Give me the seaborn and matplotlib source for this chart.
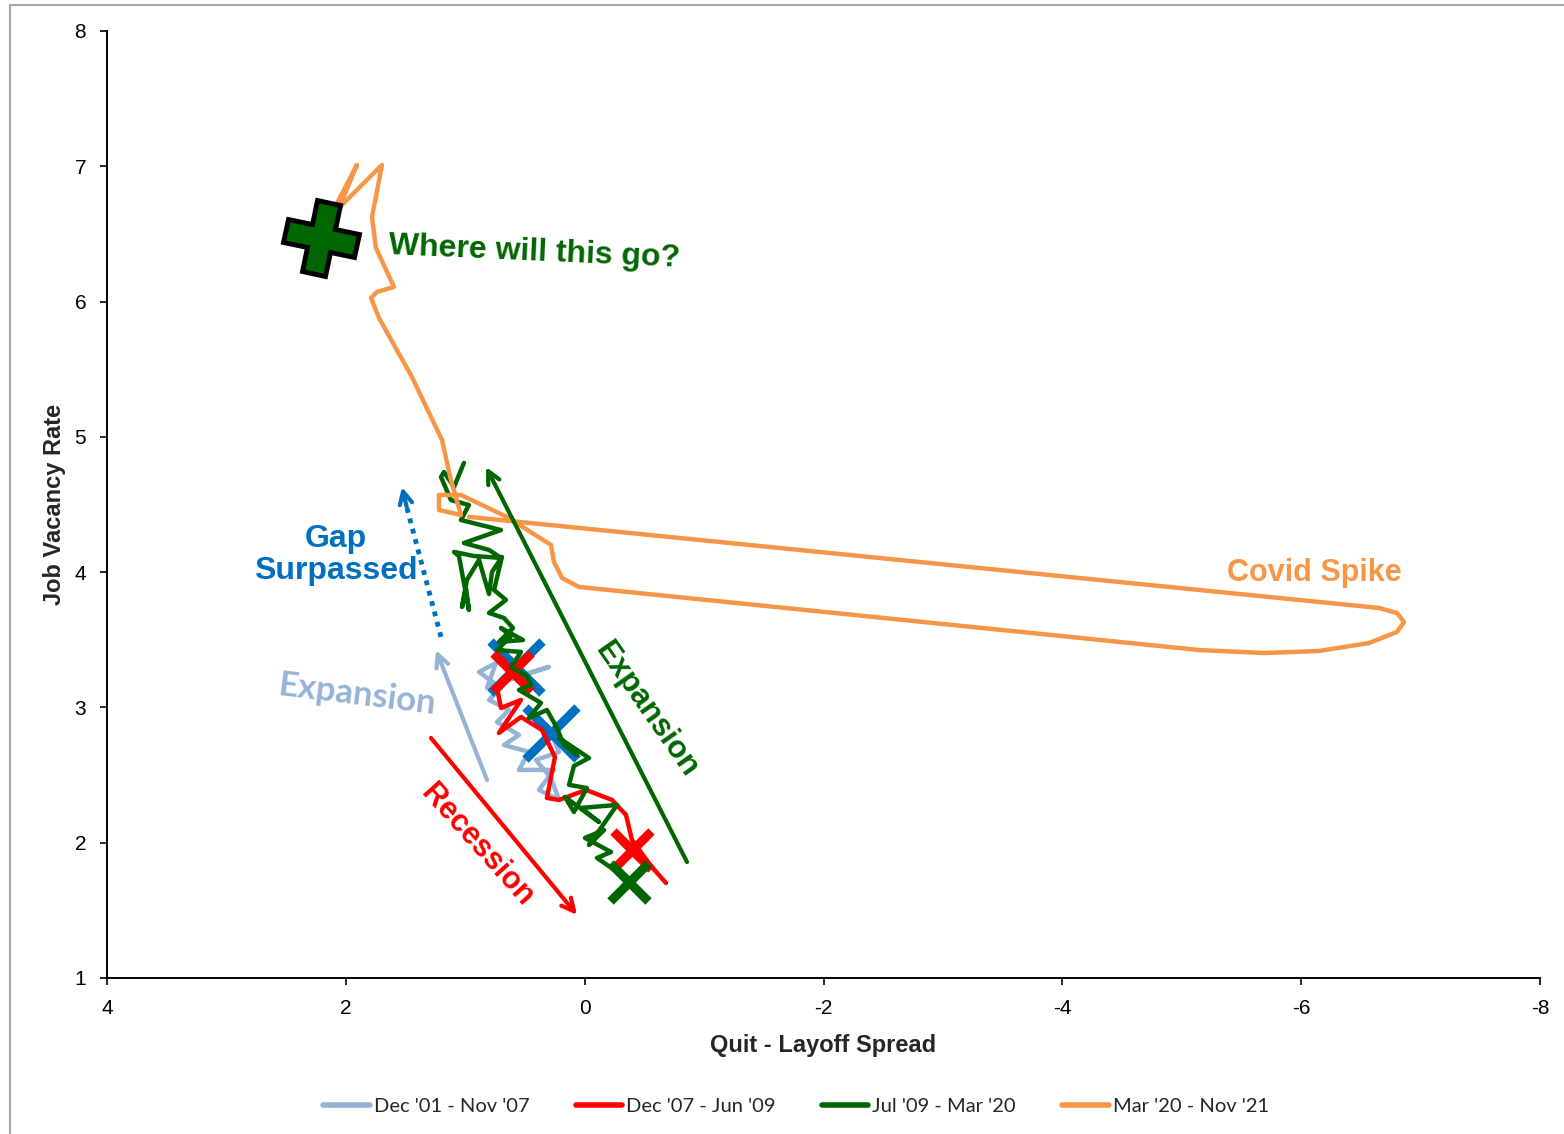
import matplotlib.pyplot as plt
import matplotlib.patches as mpatches
from matplotlib.markers import MarkerStyle
from matplotlib.transforms import Affine2D
import pandas as pd
import seaborn as sns

# quit - layoff spread (x) and job vacancy rate (y)
dec01_x = [0.282, 0.215, 0.408, 0.282, 0.215, 0.383, 0.257, 0.550, 0.466, 0.676,
           0.550, 0.734, 0.634, 0.801, 0.701, 0.885, 0.743, 0.818, 0.634, 0.299,
           0.550, 0.575]
dec01_y = [2.811, 2.671, 2.611, 2.478, 2.316, 2.390, 2.538, 2.538, 2.671, 2.722,
           2.796, 2.892, 2.981, 3.055, 3.144, 3.262, 3.328, 3.144, 3.203, 3.299,
           3.232, 3.299]

dec07_x = [0.609, 0.734, 0.701, 0.533, 0.718, 0.533, 0.358, 0.249, 0.316, 0.215,
           -0.011, -0.229, -0.346, -0.396, -0.555, -0.681]
dec07_y = [3.262, 3.144, 2.996, 3.055, 2.811, 2.929, 2.833, 2.634, 2.331, 2.316,
           2.390, 2.316, 2.205, 2.020, 1.828, 1.702]

jul09_x = [-0.371, -0.103, -0.221, -0.003, -0.162, -0.036, -0.271, 0.031, -0.120, 0.165,
           0.090, -0.019, 0.131, 0.090, -0.036, 0.215, 0.064, 0.174, 0.232, 0.316,
           0.467, 0.366, 0.550, 0.449, 0.483, 0.617, 0.533, 0.734, 0.617, 0.701,
           0.517, 0.718, 0.600, 0.676, 0.801, 0.659, 0.759, 0.693, 0.776, 0.801,
           0.885, 0.986, 1.027, 0.994, 0.969, 1.053, 1.094, 0.927, 0.701, 0.801,
           1.011, 0.701, 1.036, 0.969, 1.120, 1.203, 1.178, 1.094, 1.011]
jul09_y = [1.724, 1.887, 1.931, 2.035, 2.094, 1.983, 2.279, 2.257, 2.153, 2.338,
           2.227, 2.404, 2.427, 2.567, 2.626, 2.774, 2.648, 2.722, 2.848, 2.981,
           2.922, 3.033, 3.129, 3.166, 3.232, 3.299, 3.410, 3.424, 3.528, 3.587,
           3.498, 3.484, 3.587, 3.661, 3.698, 3.794, 3.868, 4.112, 4.001, 3.838,
           4.090, 3.942, 3.742, 3.883, 3.720, 4.119, 4.149, 4.119, 4.105, 4.164,
           4.215, 4.311, 4.385, 4.496, 4.533, 4.703, 4.740, 4.629, 4.807]

mar20_x = [0.969, -6.651, -6.802, -6.861, -6.802, -6.568, -6.149, -5.689, -5.145, 0.048,
           0.190, 0.257, 0.282, 0.651, 1.036, 1.220, 1.220, 1.036, 1.120, 1.195,
           1.446, 1.722, 1.789, 1.739, 1.597, 1.748, 1.781, 1.697, 2.057, 1.907,
           2.116]
mar20_y = [4.408, 3.735, 3.698, 3.631, 3.558, 3.476, 3.417, 3.402, 3.424, 3.890,
           3.957, 4.075, 4.201, 4.408, 4.570, 4.570, 4.459, 4.422, 4.681, 4.977,
           5.442, 5.878, 6.026, 6.071, 6.108, 6.396, 6.625, 7.010, 6.692, 7.010,
           6.655]

periods = ["Dec '01 - Nov '07", "Dec '07 - Jun '09", "Jul '09 - Mar '20", "Mar '20 - Nov '21"]
colors = ["#95B3D7", "#FF0000", "#006600", "#F79646"]

# cycle start / end markers
blue_mark_x = [0.575, 0.282]
blue_mark_y = [3.299, 2.811]
red_mark_x = [0.609, -0.396]
red_mark_y = [3.262, 1.946]
green_mark_x = [-0.371]
green_mark_y = [1.710]
latest_x = [2.208]
latest_y = [6.470]

sns.set_style("ticks")
plt.rcParams["font.family"] = ["Liberation Sans", "DejaVu Sans"]
plt.rcParams["axes.unicode_minus"] = False

fig = plt.figure(figsize=(15.64, 11.34), dpi=100)
ax = fig.add_axes([0.0684, 0.1376, 0.9163, 0.8351])

series = [(dec01_x, dec01_y), (dec07_x, dec07_y), (jul09_x, jul09_y), (mar20_x, mar20_y)]
marks = [(blue_mark_x, blue_mark_y), (red_mark_x, red_mark_y), (green_mark_x, green_mark_y)]
mark_colors = ["#0070C0", "#FF0000", "#006600"]
mark_sizes = [38, 28, 28]

for i, ((xs, ys), label, c) in enumerate(zip(series, periods, colors)):
    df = pd.DataFrame({"spread": xs, "vacancy": ys})
    sns.lineplot(data=df, x="spread", y="vacancy", sort=False, estimator=None,
                 color=c, lw=3.2, ax=ax, label=label, legend=False, zorder=3 + 2 * i)
    if i < 3:
        mx, my = marks[i]
        ax.plot(mx, my, ls="none", marker="x", ms=mark_sizes[i], mew=6.5,
                color=mark_colors[i], zorder=4 + 2 * i)

plus = MarkerStyle("P", transform=Affine2D().rotate_deg(-12))
ax.plot(latest_x, latest_y, ls="none", marker=plus, ms=52, mfc="#006600",
        mec="black", mew=3.5, zorder=12)


# arrows
def arrow(x0, y0, x1, y1, c, lw=3):
    ax.annotate("", xy=(x1, y1), xytext=(x0, y0),
                arrowprops=dict(arrowstyle="->,head_length=0.9,head_width=0.45",
                                color=c, lw=lw, shrinkA=0, shrinkB=0), zorder=15)


ax.plot([1.203, 1.49], [3.521, 4.48], color="#0070C0", lw=3.5, ls=(0, (1, 1.2)), zorder=15)
arrow(1.49, 4.48, 1.530, 4.629, "#0070C0", lw=3)
arrow(0.818, 2.464, 1.245, 3.424, "#95B3D7")
arrow(1.287, 2.774, 0.064, 1.466, "#FF0000")
arrow(-0.857, 1.857, 0.826, 4.777, "#006600")

ax.text(0.425, 6.36, "Where will this go?", rotation=-2.5, ha="center", va="center",
        fontsize=23, weight="bold", color="#006600")
ax.text(2.083, 4.127, "Gap\nSurpassed", ha="center", va="center", fontsize=23,
        weight="bold", color="#0070C0", linespacing=1.1)
ax.text(1.906, 3.09, "Expansion", rotation=-7, ha="center", va="center", fontsize=25,
        weight="bold", color="#95B3D7", family=["Lato", "DejaVu Sans"])
ax.text(0.902, 1.981, "Recession", rotation=-48, ha="center", va="center", fontsize=22,
        weight="bold", color="#FF0000")
ax.text(-0.521, 2.979, "Expansion", rotation=-55, ha="center", va="center", fontsize=22.5,
        weight="bold", color="#006600")
ax.text(-6.107, 3.994, "Covid Spike", ha="center", va="center", fontsize=22,
        weight="bold", color="#F79646")

ax.set_xlim(4, -8)
ax.set_ylim(1, 8)
ax.set_xticks(range(4, -9, -2))
ax.set_yticks(range(1, 9))
sns.despine(ax=ax)
for s in ["left", "bottom"]:
    ax.spines[s].set_color("black")
    ax.spines[s].set_linewidth(1.4)
ax.tick_params(direction="out", length=5, width=1.2, colors="black", labelsize=15)
ax.tick_params(axis="x", pad=10)
ax.tick_params(axis="y", pad=10)
ax.set_xlabel("Quit - Layoff Spread", fontsize=17, weight="bold", labelpad=12)
ax.set_ylabel("Job Vacancy Rate", fontsize=17, weight="bold", labelpad=6)

handles, labels = ax.get_legend_handles_labels()
leg = fig.legend(handles[:4], labels[:4], loc="center", bbox_to_anchor=(0.509, 0.024),
                 ncol=4, frameon=False, handlelength=2.3, handletextpad=0.2,
                 columnspacing=2.3, prop={"family": ["Lato", "DejaVu Sans"], "size": 14.5})
for h in leg.get_lines():
    h.set_linewidth(4)

fig.patches.append(mpatches.Rectangle((0.0064, -0.05), 1.2, 1.0456, transform=fig.transFigure,
                                      fill=False, edgecolor="#A6A6A6", lw=1.5))

fig.savefig("out.png", dpi=100)
